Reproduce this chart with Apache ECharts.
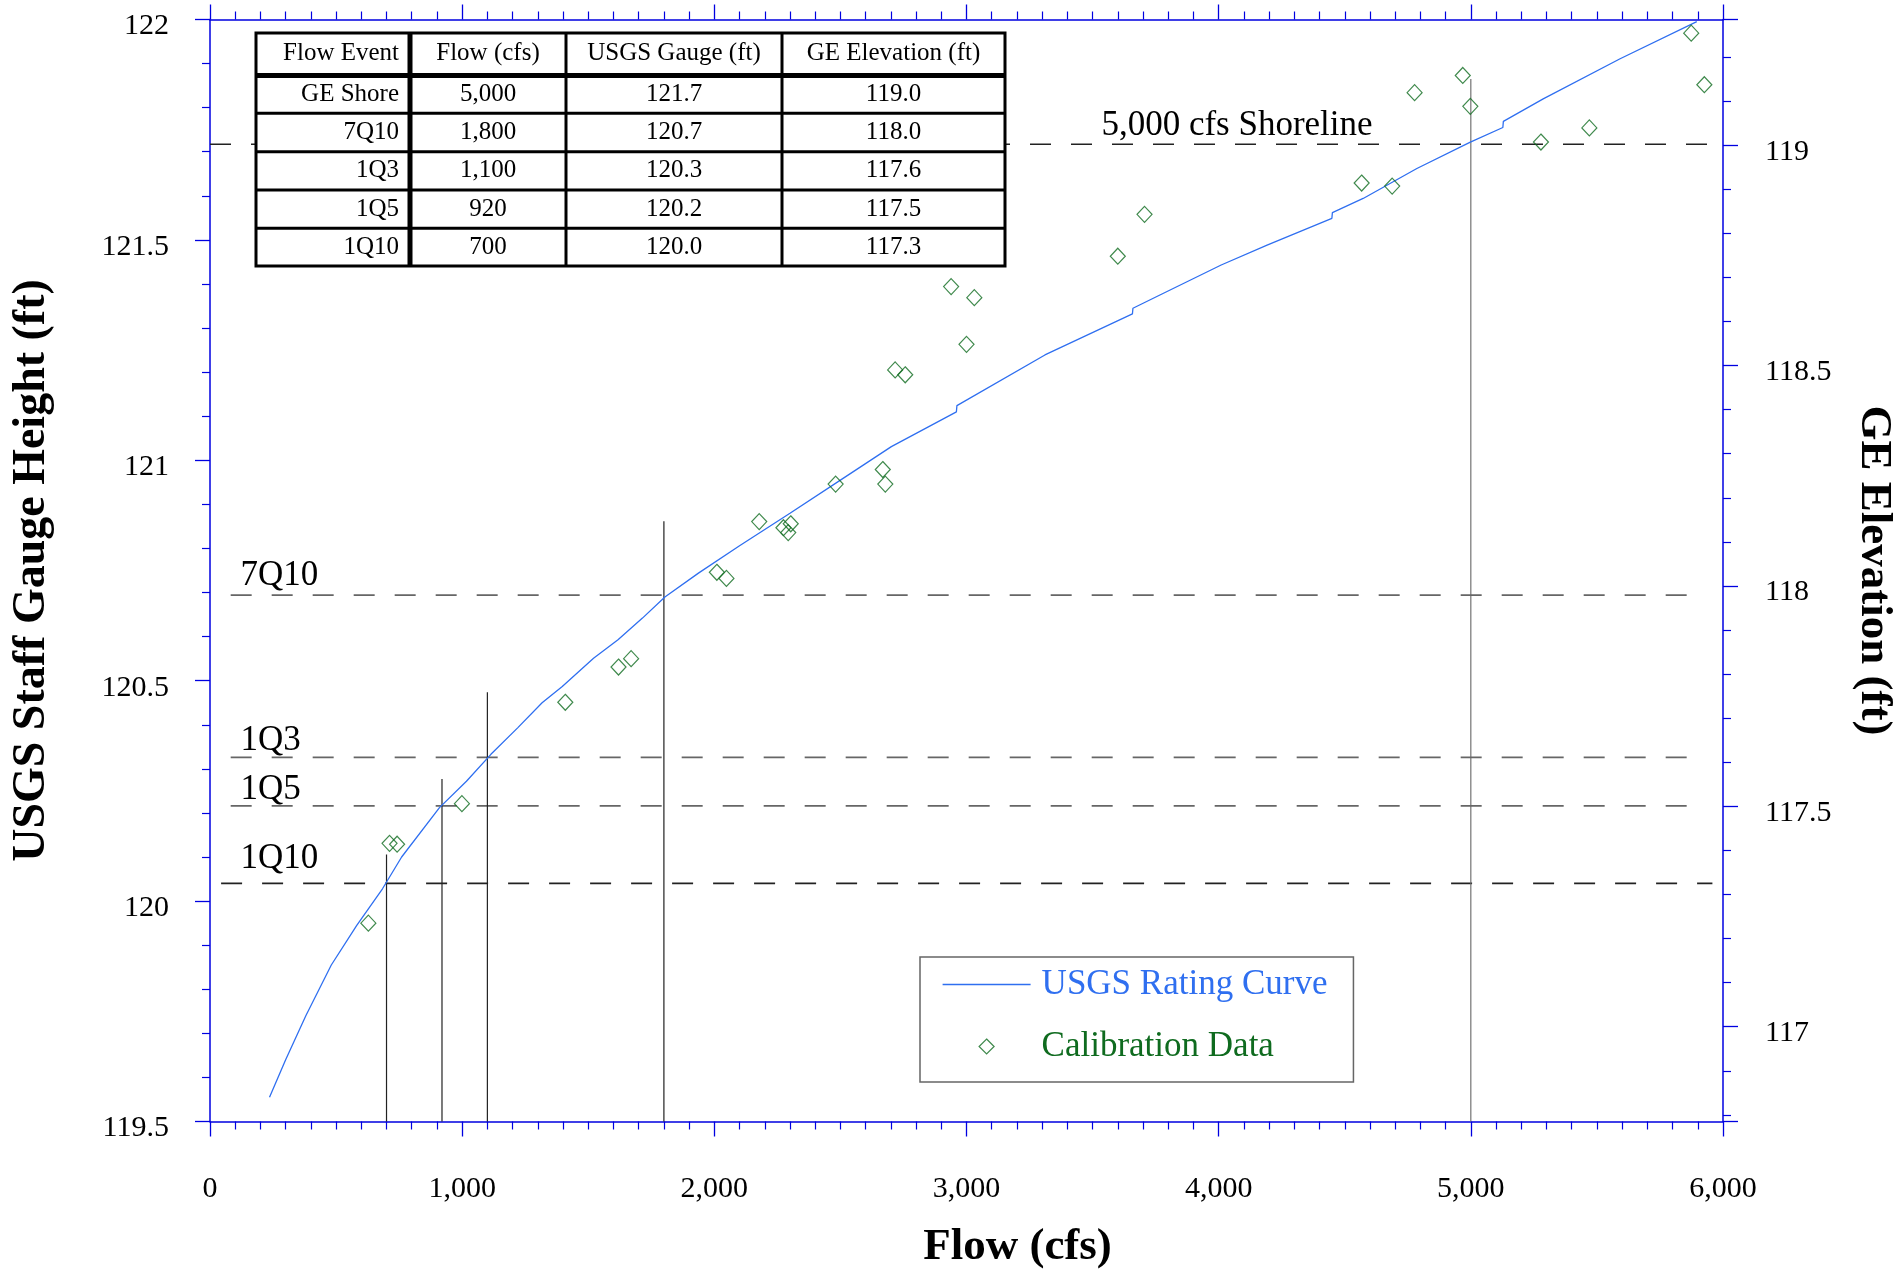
<!DOCTYPE html>
<html><head><meta charset="utf-8">
<script src="https://cdn.jsdelivr.net/npm/echarts@6/dist/echarts.min.js"></script>
<style>html,body{margin:0;padding:0;background:#fff}#c{width:1902px;height:1275px}</style>
</head><body><div id="c"></div>
<script>
// ---- USGS rating curve (flow cfs, gauge ft) ----
const curveFlow  = [236, 300, 380, 481, 582, 684, 760, 910, 1017, 1114, 1220, 1317, 1397, 1521, 1618, 1715, 1804, 1937, 2100, 2300, 2500, 2702, 2960, 2962, 3311, 3658, 3660, 3767, 4010, 4192, 4449, 4451, 4573, 4786, 4998, 5127, 5129, 5287, 5592, 5896];
const curveGauge = [119.555, 119.64, 119.74, 119.855, 119.945, 120.028, 120.10, 120.212, 120.272, 120.333, 120.393, 120.45, 120.487, 120.551, 120.593, 120.642, 120.69, 120.744, 120.806, 120.88, 120.955, 121.031, 121.11, 121.124, 121.239, 121.332, 121.345, 121.375, 121.443, 121.488, 121.549, 121.562, 121.594, 121.662, 121.722, 121.755, 121.769, 121.82, 121.911, 121.995];
// ---- Calibration data ----
const calFlow  = [628, 712, 742, 999, 1409, 1620, 1670, 2010, 2048, 2178, 2274, 2293, 2303, 2481, 2668, 2678, 2717, 2757, 2939, 3031, 3000, 3600, 3706, 4567, 4688, 4777, 4968, 4998, 5278, 5470, 5874, 5926];
const calGauge = [119.95, 120.131, 120.129, 120.221, 120.451, 120.531, 120.55, 120.746, 120.732, 120.861, 120.847, 120.836, 120.856, 120.946, 120.979, 120.946, 121.205, 121.194, 121.394, 121.369, 121.263, 121.463, 121.558, 121.629, 121.622, 121.834, 121.873, 121.803, 121.722, 121.754, 121.969, 121.852];
// ---- Flow events (reference lines) ----
const eventNames     = ['1Q10', '1Q5', '1Q3', '7Q10'];
const eventFlow      = [700, 920, 1100, 1800];
const eventGauge     = [120.04, 120.216, 120.326, 120.694];
const eventLineTop   = [120.106, 120.277, 120.474, 120.862];
const eventLineStart = [44, 82, 82, 82];
const eventLineEnd   = [5958, 5908, 5908, 5908];
const shoreName  = '5,000 cfs Shoreline';
const shoreFlow  = 5000;
const shoreGauge = 121.717;
const shoreTop   = 121.865;
const shoreStart = 0;
const shoreEnd   = 5940;
const geOffset   = 2.715;   // USGS gauge - GE elevation
// ---- Table ----
const tableHeader = ['Flow Event', 'Flow (cfs)', 'USGS Gauge (ft)', 'GE Elevation (ft)'];
const tableEvent  = ['GE Shore', '7Q10', '1Q3', '1Q5', '1Q10'];
const tableFlow   = ['5,000', '1,800', '1,100', '920', '700'];
const tableGauge  = ['121.7', '120.7', '120.3', '120.2', '120.0'];
const tableElev   = ['119.0', '118.0', '117.6', '117.5', '117.3'];

// ---- styling ----
const FONT = "'Liberation Serif','Times New Roman',serif";
const blue = '#2f6ff0', green = '#0f6b1f', axisBlue = '#0000e0';
const labelShift = {'7Q10': -19, '1Q3': -17, '1Q5': -16, '1Q10': -25};

const chart = echarts.init(document.getElementById('c'), null, {renderer: 'canvas'});

const series = [];
series.push({
  name: 'USGS Rating Curve', type: 'line', symbol: 'none', silent: true, z: 5,
  data: curveFlow.map((f, i) => [f, curveGauge[i]]),
  lineStyle: {color: blue, width: 1.3}, itemStyle: {color: blue}
});
series.push({
  name: 'Calibration Data', type: 'scatter', symbol: 'diamond', symbolSize: [15, 16], z: 6,
  data: calFlow.map((f, i) => [f, calGauge[i]]),
  itemStyle: {color: 'rgba(255,255,255,0)', borderColor: green, borderWidth: 1.2}
});
eventNames.forEach((n, i) => {
  series.push({
    type: 'line', symbol: 'none', silent: true, z: 2,
    data: [[eventLineStart[i], eventGauge[i]], [eventLineEnd[i], eventGauge[i]]],
    lineStyle: {color: n === '1Q10' ? '#222' : '#666', width: 1.7, type: [21, 20]}
  });
  series.push({
    type: 'line', symbol: 'none', silent: true, z: 2,
    data: [[eventFlow[i], 119.5], [eventFlow[i], eventLineTop[i]]],
    lineStyle: {color: '#222', width: 1.2}
  });
});
series.push({
  type: 'line', symbol: 'none', silent: true, z: 2,
  data: [[shoreStart, shoreGauge], [shoreEnd, shoreGauge]],
  lineStyle: {color: '#222', width: 1.6, type: [21, 20]}
});
series.push({
  type: 'line', symbol: 'none', silent: true, z: 2,
  data: [[shoreFlow, 119.5], [shoreFlow, shoreTop]],
  lineStyle: {color: '#666', width: 1.1}
});
// text labels of the reference lines
const labelData = eventNames.map((n, i) => ({
  value: [119, eventGauge[i]], name: n,
  label: {offset: [0, labelShift[n]]}
}));
labelData.push({value: [3533, shoreGauge], name: shoreName, label: {offset: [0, -18]}});
series.push({
  type: 'scatter', silent: true, symbolSize: 1, z: 7,
  itemStyle: {color: '#000', opacity: 0},
  data: labelData,
  label: {show: true, position: 'right', distance: 0, formatter: p => p.name, opacity: 1,
          fontFamily: FONT, fontSize: 35, color: '#000', textBorderWidth: 0}
});

// table graphic
const tx = [256, 410, 566, 782, 1005];
const ty = [33, 75.5, 113.3, 151.7, 190, 228.3, 266];
const g = [];
g.push({type: 'rect', shape: {x: tx[0], y: ty[0], width: tx[4] - tx[0], height: ty[6] - ty[0]},
        style: {fill: '#fff', stroke: '#000', lineWidth: 3}, z: 100});
g.push({type: 'line', shape: {x1: tx[0], y1: ty[1], x2: tx[4], y2: ty[1]}, style: {stroke: '#000', lineWidth: 5}, z: 101});
for (let r = 2; r < 6; r++) g.push({type: 'line', shape: {x1: tx[0], y1: ty[r], x2: tx[4], y2: ty[r]}, style: {stroke: '#000', lineWidth: 3}, z: 101});
g.push({type: 'line', shape: {x1: tx[1], y1: ty[0], x2: tx[1], y2: ty[6]}, style: {stroke: '#000', lineWidth: 5}, z: 101});
for (let c = 2; c < 4; c++) g.push({type: 'line', shape: {x1: tx[c], y1: ty[0], x2: tx[c], y2: ty[6]}, style: {stroke: '#000', lineWidth: 3}, z: 101});
const cols = [tableEvent, tableFlow, tableGauge, tableElev];
function cellText(txt, c, r) {
  const yc = (ty[r] + ty[r + 1]) / 2 + (r === 0 ? -1 : 0);
  const right = c === 0;
  g.push({type: 'text', z: 102, style: {
    text: txt, x: right ? tx[1] - 11 : (tx[c] + tx[c + 1]) / 2, y: yc,
    align: right ? 'right' : 'center', verticalAlign: 'middle',
    font: '25px ' + FONT, fill: '#000'}});
}
tableHeader.forEach((h, c) => cellText(h, c, 0));
cols.forEach((col, c) => col.forEach((v, r) => cellText(v, c, r + 1)));

const fmtThousands = v => String(v).replace(/\B(?=(\d{3})+(?!\d))/g, ',');
const tickCommon = {show: true, inside: false, length: 15, lineStyle: {color: axisBlue, width: 1.3}};
const minorCommon = {show: true, length: 8, lineStyle: {color: axisBlue, width: 1.2}};

const option = {
  animation: false,
  backgroundColor: '#fff',
  textStyle: {fontFamily: FONT},
  grid: {left: 210, right: 179, top: 19.5, bottom: 153.5, containLabel: false, outerBoundsMode: 'none'},
  legend: {
    orient: 'vertical', left: 920, top: 957,
    padding: [10, 26, 18, 22], itemGap: 27, itemWidth: 88, itemHeight: 16,
    borderColor: '#666', borderWidth: 1.5, backgroundColor: '#fff',
    selectedMode: false, symbolKeepAspect: true,
    textStyle: {fontFamily: FONT, fontSize: 35, padding: [0, 0, 0, 6]},
    data: [
      {name: 'USGS Rating Curve', icon: 'path://M0,0H88V1.4H0Z', symbolKeepAspect: true,
       itemStyle: {color: blue, borderWidth: 0}, textStyle: {color: blue}},
      {name: 'Calibration Data', icon: 'path://M0,0M88,16M44,0.5L51.5,8L44,15.5L36.5,8Z', symbolKeepAspect: true,
       itemStyle: {color: 'rgba(255,255,255,0)', borderColor: green, borderWidth: 1.2},
       textStyle: {color: green}}
    ]
  },
  xAxis: [{
    type: 'value', min: 0, max: 6000, interval: 1000, position: 'bottom',
    name: 'Flow (cfs)', nameLocation: 'middle', nameGap: 103,
    nameTextStyle: {fontFamily: FONT, fontSize: 45, fontWeight: 'bold', color: '#000', padding: [0, 0, 0, 102]},
    axisLine: {show: true, onZero: false, lineStyle: {color: axisBlue, width: 1.5}},
    axisTick: tickCommon,
    minorTick: Object.assign({splitNumber: 10}, minorCommon),
    splitLine: {show: false}, minorSplitLine: {show: false},
    axisLabel: {fontFamily: FONT, fontSize: 30, color: '#000', margin: 53, formatter: fmtThousands}
  }, {
    type: 'value', min: 0, max: 6000, interval: 1000, position: 'top',
    axisLine: {show: true, onZero: false, lineStyle: {color: axisBlue, width: 1.5}},
    axisTick: tickCommon,
    minorTick: Object.assign({splitNumber: 10}, minorCommon),
    splitLine: {show: false}, axisLabel: {show: false}
  }],
  yAxis: [{
    type: 'value', min: 119.5, max: 122, interval: 0.5, position: 'left',
    name: 'USGS Staff Gauge Height (ft)', nameLocation: 'middle', nameGap: 155, nameRotate: 90,
    nameTextStyle: {fontFamily: FONT, fontSize: 46, fontWeight: 'bold', color: '#000'},
    axisLine: {show: true, onZero: false, lineStyle: {color: axisBlue, width: 1.5}},
    axisTick: tickCommon,
    minorTick: Object.assign({splitNumber: 5}, minorCommon),
    splitLine: {show: false},
    axisLabel: {fontFamily: FONT, fontSize: 30, color: '#000', margin: 41, verticalAlign: 'top', lineHeight: 14}
  }, {
    type: 'value', min: 119.5 - geOffset, max: 122 - geOffset, splitNumber: 5, position: 'right',
    name: 'GE Elevation (ft)', nameLocation: 'middle', nameGap: 128, nameRotate: -90,
    nameTextStyle: {fontFamily: FONT, fontSize: 45, fontWeight: 'bold', color: '#000'},
    axisLine: {show: true, onZero: false, lineStyle: {color: axisBlue, width: 1.5}},
    axisTick: tickCommon,
    minorTick: Object.assign({splitNumber: 5}, minorCommon),
    splitLine: {show: false},
    axisLabel: {fontFamily: FONT, fontSize: 30, color: '#000', margin: 42, verticalAlign: 'top', lineHeight: 13,
                showMinLabel: false, showMaxLabel: false,
                formatter: v => String(Math.round(v * 10) / 10)}
  }],
  graphic: g,
  series: series
};
chart.setOption(option);
</script></body></html>
